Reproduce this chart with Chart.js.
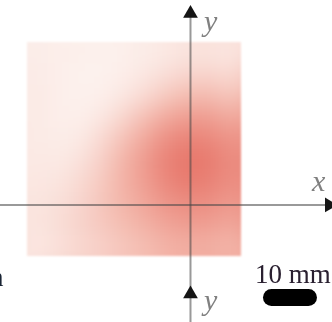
<!DOCTYPE html>
<html><head><meta charset="utf-8">
<script src="https://cdn.jsdelivr.net/npm/chart.js@4.4.1/dist/chart.umd.min.js"></script>
<style>
html,body{margin:0;padding:0;background:#fff;overflow:hidden;}
#wrap{position:relative;width:332px;height:322px;}
canvas{position:absolute;left:0;top:0;}
.lbl{position:absolute;font-family:"Liberation Serif","DejaVu Serif",serif;line-height:1;white-space:nowrap;}
.ax{font-style:italic;font-size:30px;color:#808080;}
</style></head>
<body><div id="wrap">
<canvas id="c" width="332" height="322"></canvas>
<span class="lbl ax" style="left:204px;top:6px;">y</span>
<span class="lbl ax" style="left:312px;top:166px;">x</span>
<span class="lbl ax" style="left:204px;top:285px;">y</span>
<span class="lbl" style="left:255px;top:261px;font-size:27px;color:#2a2030;">10 mm</span>
<span class="lbl" style="left:-10px;top:264px;font-size:27px;color:#1a2535;">n</span>
</div>
<script>
// ---- data (mm) ----
const xCenters = [-28.88,-24.84,-20.80,-16.76,-12.72,-8.68,-4.64,-0.60,3.44,7.48];
const yCenters = [28.68,24.64,20.60,16.56,12.52,8.48,4.44,0.40,-3.64,-7.68];
const cellSize = 4.04;
const squareX = [-30.9, 9.5];
const squareY = [-9.7, 30.7];
const intensity = [
 [0.08,0.07,0.06,0.05,0.06,0.08,0.11,0.15,0.15,0.12],
 [0.09,0.07,0.05,0.05,0.07,0.12,0.19,0.26,0.27,0.22],
 [0.10,0.07,0.05,0.06,0.12,0.22,0.35,0.45,0.46,0.38],
 [0.10,0.07,0.06,0.12,0.25,0.42,0.58,0.68,0.68,0.58],
 [0.10,0.08,0.10,0.22,0.40,0.60,0.78,0.88,0.85,0.75],
 [0.11,0.10,0.16,0.30,0.50,0.70,0.88,0.98,0.95,0.82],
 [0.12,0.14,0.22,0.35,0.52,0.68,0.85,0.95,0.90,0.80],
 [0.14,0.18,0.26,0.38,0.50,0.62,0.75,0.82,0.80,0.72],
 [0.14,0.20,0.28,0.36,0.45,0.54,0.64,0.70,0.68,0.62],
 [0.12,0.17,0.24,0.30,0.37,0.44,0.52,0.56,0.55,0.50]
];
const xAxisLine = [{x:-35.94,y:0},{x:26.2,y:0}];
const yAxisLine = [{x:0,y:36.1},{x:0,y:-22.1}];
const arrows = [{x:0,y:36.13,r:0},{x:0,y:-16.8,r:0},{x:26.18,y:0,r:90}];
const scaleBar = [{x:15.28,y:-17.45},{x:22.26,y:-17.45}];

const cells = [];
intensity.forEach((row,r)=>row.forEach((v,c)=>cells.push({x:xCenters[c],y:yCenters[r],v})));

const stops = [[0,[253,247,244]],[0.5,[243,182,170]],[1,[231,116,104]]];
function colorFor(v){
  for(let i=0;i<stops.length-1;i++){
    const [a,ca]=stops[i],[b,cb]=stops[i+1];
    if(v<=b){const t=(v-a)/(b-a);return 'rgb('+ca.map((k,j)=>Math.round(k+(cb[j]-k)*t)).join(',')+')';}
  }
  return 'rgb('+stops[stops.length-1][1].join(',')+')';
}
function cellRadius(ctx){
  const s=ctx.chart.scales.x;
  const side=Math.abs(s.getPixelForValue(cellSize)-s.getPixelForValue(0));
  return side/Math.SQRT2+0.7;
}
const blurPlugin={
  id:'blurHeat',
  afterDatasetDraw(chart,args){
    const ds=chart.data.datasets[args.index];
    if(!ds.blurPx) return;
    const ctx=chart.ctx, canvas=chart.canvas;
    const sx=chart.scales.x, sy=chart.scales.y;
    const x0=Math.round(sx.getPixelForValue(squareX[0])), x1=Math.round(sx.getPixelForValue(squareX[1]));
    const y0=Math.round(sy.getPixelForValue(squareY[1])), y1=Math.round(sy.getPixelForValue(squareY[0]));
    const w=x1-x0, h=y1-y0, pad=Math.ceil(ds.blurPx*3);
    const tmp=document.createElement('canvas'); tmp.width=w+2*pad; tmp.height=h+2*pad;
    const t=tmp.getContext('2d');
    t.drawImage(canvas,x0,y0,w,h,0,0,w+2*pad,h+2*pad);
    t.drawImage(canvas,x0,y0,w,h,pad,pad,w,h);
    const tmp2=document.createElement('canvas'); tmp2.width=w; tmp2.height=h;
    const t2=tmp2.getContext('2d');
    t2.filter='blur('+ds.blurPx+'px)';
    t2.drawImage(tmp,-pad,-pad);
    ctx.save();
    ctx.setTransform(1,0,0,1,0,0);
    ctx.clearRect(x0-3,y0-3,w+6,h+6);
    ctx.filter='blur('+ds.edgeBlurPx+'px)';
    ctx.drawImage(tmp2,x0,y0);
    ctx.restore();
  }
};
new Chart(document.getElementById('c'),{
  type:'scatter',
  data:{datasets:[
    {data:arrows,order:0,pointStyle:'triangle',pointRadius:8.5,pointRotation:c=>c.raw?c.raw.r:0,
     pointBackgroundColor:'#151515',pointBorderColor:'#151515',pointBorderWidth:0,clip:false},
    {data:scaleBar,order:1,showLine:true,borderColor:'#000',borderWidth:17,borderCapStyle:'round',pointRadius:0,clip:false},
    {data:xAxisLine,order:2,showLine:true,borderColor:'rgba(70,70,70,0.55)',borderWidth:2,pointRadius:0},
    {data:yAxisLine,order:3,showLine:true,borderColor:'rgba(70,70,70,0.55)',borderWidth:2,pointRadius:0},
    {data:cells,order:4,blurPx:10,edgeBlurPx:1.3,pointStyle:'rect',pointRadius:cellRadius,pointBorderWidth:0,
     pointBackgroundColor:c=>colorFor(c.raw?c.raw.v:0)}
  ]},
  options:{
    responsive:false,animation:false,events:[],
    layout:{padding:0,autoPadding:false},
    plugins:{legend:{display:false},tooltip:{enabled:false}},
    scales:{
      x:{type:'linear',min:-35.94,max:26.7,display:false},
      y:{type:'linear',min:-22.08,max:38.68,display:false}
    }
  },
  plugins:[blurPlugin]
});
</script>
</body></html>
